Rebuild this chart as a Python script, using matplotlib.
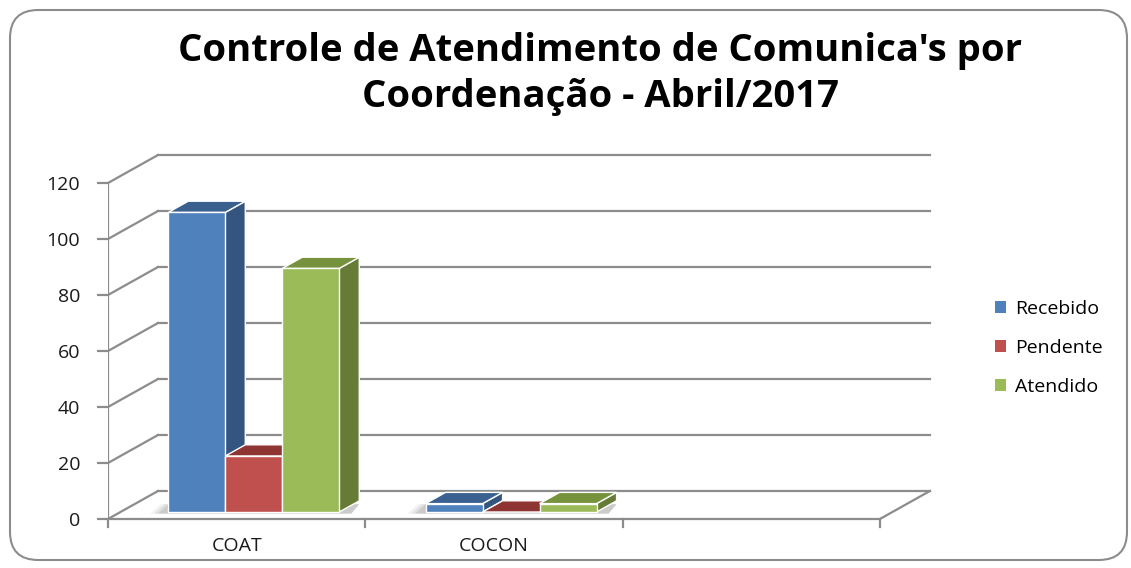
import matplotlib
matplotlib.use('Agg')
import matplotlib.pyplot as plt
from matplotlib.patches import Polygon, FancyBboxPatch, Patch

# data
categories = ['COAT', 'COCON']
series = ['Recebido', 'Pendente', 'Atendido']
recebido = [107, 3]
pendente = [20, 0]
atendido = [87, 3]
values = [recebido, pendente, atendido]
n_slots = 3  # the value axis has room for one more (empty) category

front_colors = ['#4F81BD', '#C0504D', '#9BBB59']
side_colors = ['#34557F', '#7F2F2D', '#667C36']
top_colors = ['#3A6090', '#8E3533', '#76923C']
grid_c = '#8C8C8C'

W, H = 1131, 568
fig = plt.figure(figsize=(W / 100, H / 100), dpi=100)

# pixel box of the plot region
px_left, px_right, px_top, px_bot = 108, 940, 140, 530
px_per_cat = 257.3
px_per_val = 2.8
px_zero = 519
ax = fig.add_axes([px_left / W, (H - px_bot) / H,
                   (px_right - px_left) / W, (px_bot - px_top) / H])
ax.set_xlim(0, (px_right - px_left) / px_per_cat)
ymin = -(px_bot - px_zero) / px_per_val
ax.set_ylim(ymin, ymin + (px_bot - px_top) / px_per_val)
for s in ax.spines.values():
    s.set_visible(False)

# oblique depth of the wall, and where the bars stand in it
DX, DY = 50 / px_per_cat, 28 / px_per_val
f = 0.25
bdx, bdy = 0.4 * DX, 0.4 * DY

yticks = list(range(0, 121, 20))
lw = 1.6
for v in yticks:
    ax.plot([DX, n_slots + DX], [v + DY, v + DY], color=grid_c, lw=lw, zorder=1)
    ax.plot([0, DX], [v, v + DY], color=grid_c, lw=lw, zorder=1)
ax.plot([0, 0], [0, yticks[-1]], color=grid_c, lw=lw, zorder=1)
ax.plot([0, n_slots], [0, 0], color=grid_c, lw=lw, zorder=1)
ax.plot([n_slots, n_slots + DX], [0, DY], color=grid_c, lw=lw, zorder=1)
for i in range(n_slots + 1):
    ax.plot([i, i], [0, -3], color=grid_c, lw=lw, zorder=1, clip_on=False)

ax.set_yticks(yticks)
ax.tick_params(axis='y', length=8, width=lw, color=grid_c, pad=12,
               labelsize=14, labelcolor='#1a1a1a')
ax.set_xticks([i + 0.5 for i in range(len(categories))])
ax.set_xticklabels(categories)
ax.tick_params(axis='x', length=0, pad=5, labelsize=14, labelcolor='#1a1a1a')
for lab in ax.get_xticklabels() + ax.get_yticklabels():
    lab.set_fontfamily('Open Sans')

bw = 0.2215
nser = len(series)
for i in range(len(categories)):
    x0 = i + 0.5 - nser * bw / 2 + f * DX + 0.018
    b = f * DY
    # soft floor shadow, mostly to the left of the group
    for k, a in enumerate([0.05, 0.07, 0.09]):
        grow = 0.05 - k * 0.015
        shadow = Polygon([(x0 - grow - 0.02, b - 0.6), (x0 + nser * bw + bdx * 0.6, b - 0.6),
                          (x0 + nser * bw + bdx, b + bdy * 0.7), (x0 - grow + 0.02, b + bdy * 0.7)],
                         closed=True, facecolor='black', alpha=a, lw=0, zorder=2)
        ax.add_patch(shadow)
    for k in range(nser):
        v = values[k][i]
        xl = x0 + k * bw
        t = b + v
        z = 3 + k
        side = Polygon([(xl + bw, b), (xl + bw + bdx, b + bdy),
                        (xl + bw + bdx, t + bdy), (xl + bw, t)],
                       closed=True, facecolor=side_colors[k], edgecolor='white', lw=1, zorder=z)
        top = Polygon([(xl, t), (xl + bdx, t + bdy), (xl + bw + bdx, t + bdy), (xl + bw, t)],
                      closed=True, facecolor=top_colors[k], edgecolor='white', lw=1, zorder=z)
        ax.add_patch(side)
        ax.add_patch(top)
        if v > 0:
            ax.bar(xl, v, bw, bottom=b, align='edge', color=front_colors[k],
                   edgecolor='white', lw=1, zorder=z + 0.5)

handles = [Patch(facecolor=c, edgecolor='none') for c in front_colors]
fig.legend(handles, series, loc='center left', bbox_to_anchor=(977 / W, 1 - 348 / H),
           frameon=False, prop={'family': 'Open Sans', 'size': 14},
           handlelength=0.6, handleheight=0.6, handletextpad=0.45, labelspacing=1.08)

fig.text(600 / W, 1 - 74 / H, "Controle de Atendimento de Comunica's por\nCoordenação - Abril/2017",
         ha='center', va='center', fontsize=27.5, fontweight='bold', family='Open Sans',
         linespacing=1.25, color='black')

border = FancyBboxPatch((10 / W, 8 / H), 1117 / W, 550 / H,
                        boxstyle='round,pad=0,rounding_size=0.025', transform=fig.transFigure,
                        facecolor='none', edgecolor='#8C8C8C', lw=1.5, mutation_aspect=W / H)
fig.patches.append(border)

fig.savefig('out.png', dpi=100)
